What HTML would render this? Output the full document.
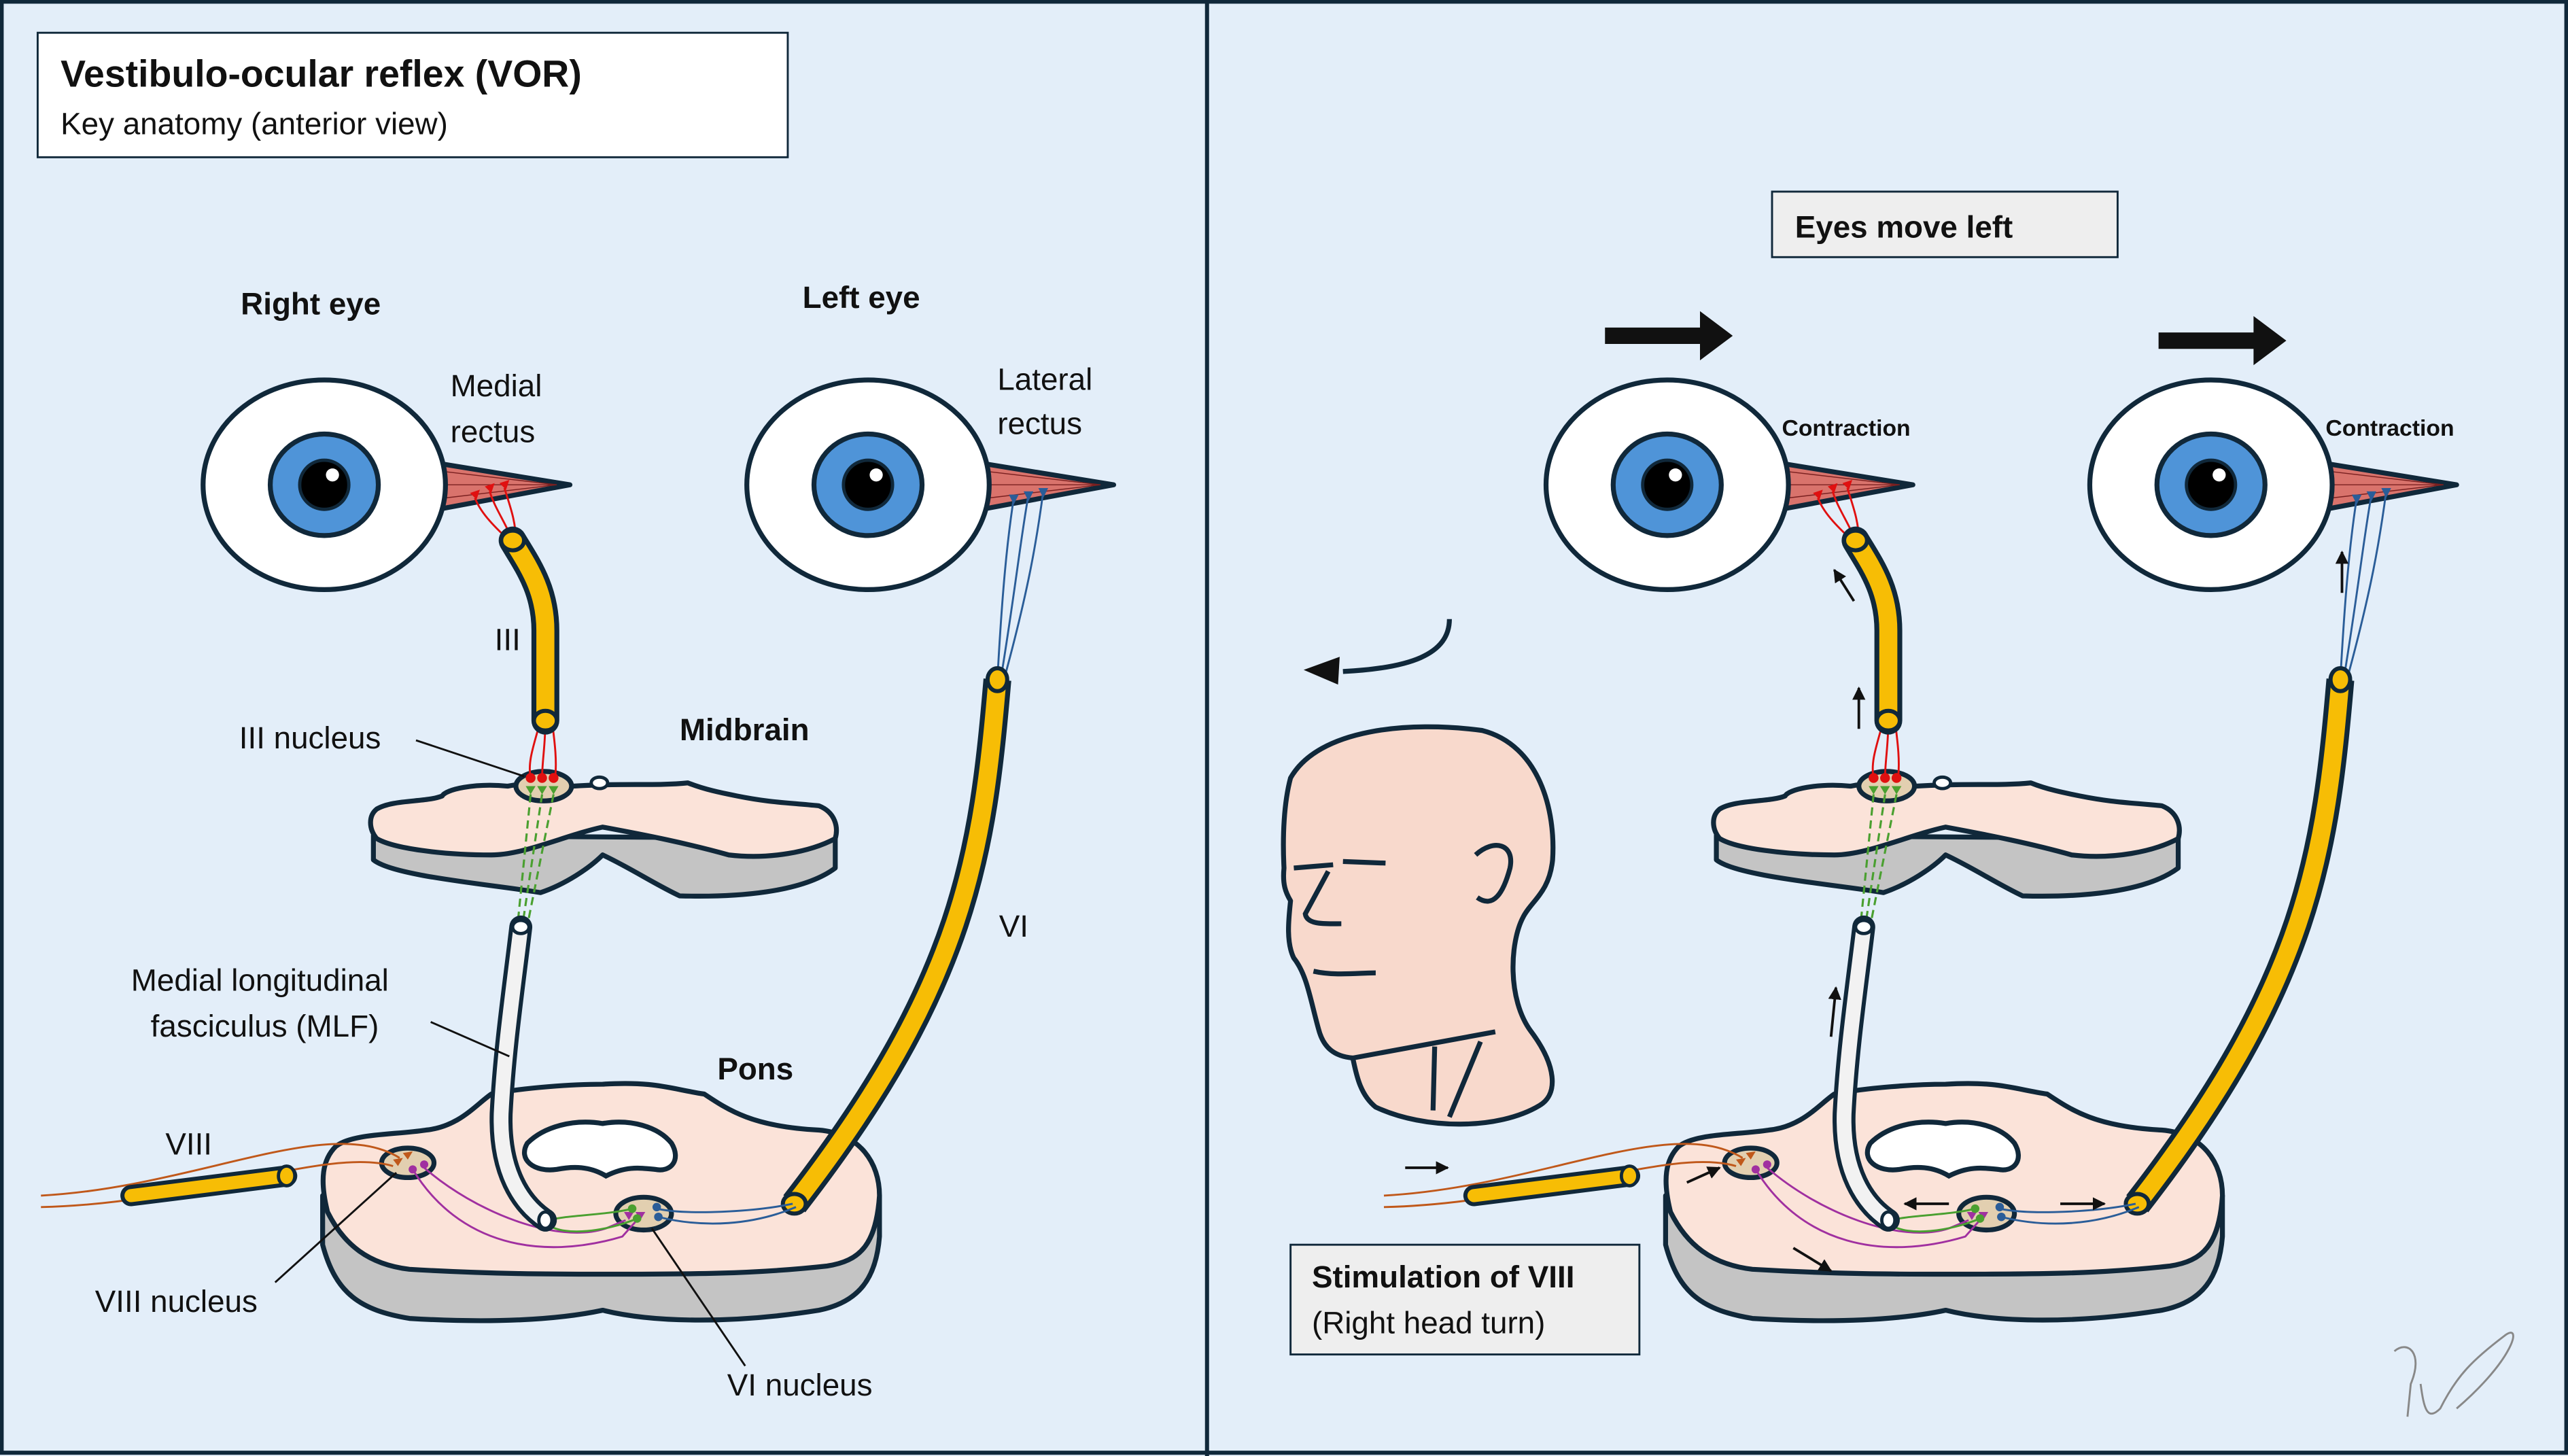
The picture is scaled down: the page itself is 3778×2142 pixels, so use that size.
<!DOCTYPE html>
<html><head><meta charset="utf-8"><style>
html,body{margin:0;padding:0;background:#e3eef9}
svg{display:block}
text{font-family:"Liberation Sans",sans-serif;fill:#111}
</style></head><body>
<svg width="3778" height="2142" viewBox="0 0 1568 889" xmlns="http://www.w3.org/2000/svg">
<defs>
<marker id="ah" viewBox="0 0 10 10" refX="9" refY="5" markerWidth="5" markerHeight="5" orient="auto"><path d="M0,0L10,5L0,10z" fill="#111"/></marker>
<g id="anat">
 <!-- midbrain -->
 <path d="M228,510 L228,525 C240,535 300,540 330,545 C345,540 360,530 368,522 C385,530 400,540 415,547 C450,548 490,545 510,530 L510,512 Z" fill="#c4c4c4" stroke="#10283a" stroke-width="3" stroke-linejoin="round"/>
 <path d="M230,494 C240,488 260,490 270,486 C272,482 290,478 310,480 C320,478 330,478 350,480 C380,478 400,480 420,478 C430,482 440,484 450,486 C470,490 480,490 500,492 C510,496 512,505 510,512 C495,520 470,525 445,522 C420,515 395,510 368,505 C345,510 320,522 300,522 C270,522 240,518 230,512 C225,506 225,498 230,494Z" fill="#fbe3d9" stroke="#10283a" stroke-width="3" stroke-linejoin="round"/>
 <ellipse cx="332" cy="480" rx="17" ry="9" fill="#e2cfb0" stroke="#10283a" stroke-width="3"/>
 <ellipse cx="366" cy="478" rx="5" ry="3.5" fill="#fff" stroke="#10283a" stroke-width="2"/>
 <g fill="#e01010"><circle cx="324" cy="475" r="3"/><circle cx="331" cy="475" r="3"/><circle cx="338" cy="475" r="3"/></g>
 <g fill="#4aa030"><path d="M321,480h6l-3,5z"/><path d="M328,480h6l-3,5z"/><path d="M335,480h6l-3,5z"/></g>
 <g stroke="#4aa030" stroke-width="1.3" stroke-dasharray="5,3" fill="none"><path d="M324,485 L316,565"/><path d="M331,485 L319,565"/><path d="M338,485 L322,565"/></g>
 <!-- pons -->
 <path d="M197,730 L197,760 C205,790 220,800 250,805 C300,808 340,806 368,800 C400,808 450,808 500,800 C525,795 535,780 537,755 L537,730 Z" fill="#c4c4c4" stroke="#10283a" stroke-width="3" stroke-linejoin="round"/>
 <path d="M205,700 C215,692 240,693 260,690 C280,688 290,675 300,668 C320,664 350,662 368,662 C400,660 410,665 430,668 C445,678 460,688 500,690 C525,692 537,710 537,730 C535,760 525,770 505,773 C460,778 420,778 368,778 C340,778 300,778 250,775 C225,772 210,760 200,740 C195,720 197,708 205,700Z" fill="#fbe3d9" stroke="#10283a" stroke-width="3" stroke-linejoin="round"/>
 <path d="M322,698 C332,688 350,683 368,686 C385,683 402,688 410,698 C416,708 410,716 400,714 C390,713 382,712 370,718 C360,712 350,712 340,714 C326,716 316,708 322,698Z" fill="#fff" stroke="#10283a" stroke-width="3"/>
 <ellipse cx="249" cy="710" rx="16" ry="9" fill="#e2cfb0" stroke="#10283a" stroke-width="3"/>
 <ellipse cx="393" cy="741" rx="17" ry="10" fill="#e2cfb0" stroke="#10283a" stroke-width="3"/>
 <!-- eyes -->
 <g id="eyeR">
  <path d="M262,282 L348,296 L262,312z" fill="#d9736c" stroke="#10283a" stroke-width="3" stroke-linejoin="round"/>
  <path d="M272,288L340,296M272,296L340,296M272,304L340,296" stroke="#7a2020" stroke-width="0.6"/>
  <ellipse cx="198" cy="296" rx="74" ry="64" fill="#fff" stroke="#10283a" stroke-width="3"/>
  <ellipse cx="198" cy="296" rx="33" ry="31" fill="#4f94d8" stroke="#10283a" stroke-width="3"/>
  <ellipse cx="198" cy="296" rx="15" ry="15" fill="#000" stroke="#10283a" stroke-width="2"/>
  <circle cx="203" cy="290" r="4" fill="#fff"/>
 </g>
 <use href="#eyeR" transform="translate(332,0)"/>
 <!-- red fibers -->
 <g stroke="#e01010" stroke-width="1.2" fill="none">
  <path d="M311,330 C300,320 293,312 290,304"/><path d="M313,330 C308,318 302,310 299,300"/><path d="M315,330 C315,318 311,308 308,298"/>
  <path d="M330,440 C326,455 322,465 324,475"/><path d="M333,440 C333,455 331,465 331,475"/><path d="M337,440 C339,455 340,465 339,475"/>
 </g>
 <g fill="#e01010"><path d="M287,301l6,-2l-2,6z"/><path d="M296,297l6,-2l-2,6z"/><path d="M305,295l6,-2l-2,6z"/></g>
 <!-- blue fibers -->
 <g stroke="#2a5d98" stroke-width="1.2" fill="none">
  <path d="M609,415 C612,360 615,330 619,304"/><path d="M611,415 C620,360 623,330 628,302"/><path d="M613,415 C628,360 633,330 637,300"/>
 </g>
 <g fill="#2a5d98"><path d="M616,302l6,0l-3,6z"/><path d="M625,300l6,0l-3,6z"/><path d="M634,298l6,0l-3,6z"/></g>
 <!-- nerve III -->
 <path d="M313,330 C322,345 333,360 333,385 L333,440" fill="none" stroke="#10283a" stroke-width="17" stroke-linecap="round"/>
 <path d="M313,330 C322,345 333,360 333,385 L333,440" fill="none" stroke="#f7bd05" stroke-width="11"/>
 <ellipse cx="313" cy="330" rx="7" ry="6" fill="#f7bd05" stroke="#10283a" stroke-width="2.5"/>
 <ellipse cx="333" cy="440" rx="7" ry="6" fill="#f7bd05" stroke="#10283a" stroke-width="2.5"/>
 <!-- nerve VI -->
 <path d="M609,415 C600,520 590,600 485,735" fill="none" stroke="#10283a" stroke-width="17"/>
 <path d="M609,415 C600,520 590,600 485,735" fill="none" stroke="#f7bd05" stroke-width="11"/>
 <ellipse cx="609" cy="415" rx="6" ry="7" fill="#f7bd05" stroke="#10283a" stroke-width="2.5"/>
 <ellipse cx="485" cy="735" rx="7" ry="6" fill="#f7bd05" stroke="#10283a" stroke-width="2.5"/>
 <!-- pons fibers -->
 <g stroke="#c0581a" stroke-width="1.2" fill="none"><path d="M25,730 C120,725 200,680 244,707"/><path d="M25,737 C120,735 200,700 240,712"/></g>
 <g stroke="#a030a0" stroke-width="1.2" fill="none"><path d="M252,714 C280,760 330,770 380,755 L388,746"/><path d="M259,713 C290,740 340,760 370,750 L382,745"/></g>
 <g fill="#a030a0"><circle cx="252" cy="714" r="2.5"/><circle cx="259" cy="711" r="2.5"/><path d="M381,740h6l-3,5z"/><path d="M388,740h6l-3,5z"/></g>
 <g fill="#c0581a"><path d="M240,708l6,-1l-3,5z"/><path d="M246,704l6,-1l-3,5z"/></g>
 <g stroke="#4aa030" stroke-width="1.2" fill="none"><path d="M335,745 C345,742 370,742 386,738"/><path d="M335,748 C345,755 370,752 389,744"/></g>
 <g fill="#4aa030"><circle cx="386" cy="738" r="2.6"/><circle cx="389" cy="744" r="2.6"/></g>
 <g stroke="#2a5d98" stroke-width="1.2" fill="none"><path d="M401,738 C420,742 460,740 484,735"/><path d="M402,743 C430,750 460,748 486,737"/></g>
 <g fill="#2a5d98"><circle cx="401" cy="737" r="2.6"/><circle cx="402" cy="743" r="2.6"/></g>
 <!-- MLF -->
 <path d="M318,566 C314,600 308,640 306,680 C305,715 318,735 333,745" fill="none" stroke="#10283a" stroke-width="14" stroke-linecap="round"/>
 <path d="M318,566 C314,600 308,640 306,680 C305,715 318,735 333,745" fill="none" stroke="#f2f2f2" stroke-width="9"/>
 <ellipse cx="318" cy="566" rx="5" ry="4" fill="#fff" stroke="#10283a" stroke-width="2"/>
 <ellipse cx="333" cy="745" rx="4" ry="5" fill="#fff" stroke="#10283a" stroke-width="2"/>
 <!-- VIII nerve -->
 <path d="M80,730 L175,718" stroke="#10283a" stroke-width="13" stroke-linecap="round"/>
 <path d="M80,730 L175,718" stroke="#f7bd05" stroke-width="8" stroke-linecap="round"/>
 <ellipse cx="175" cy="718" rx="5" ry="6" fill="#f7bd05" stroke="#10283a" stroke-width="2"/>
</g>
</defs>

<rect x="0" y="0" width="1568" height="889" fill="#e3eef9"/>
<use href="#anat"/>
<use href="#anat" transform="translate(820,0)"/>

<rect x="1" y="1" width="1566" height="886" fill="none" stroke="#10283a" stroke-width="2.5"/>
<line x1="737" y1="0" x2="737" y2="889" stroke="#10283a" stroke-width="2.5"/>

<rect x="23" y="20" width="458" height="76" fill="#fff" stroke="#10283a" stroke-width="1.2"/>
<text x="37" y="53" font-size="23" font-weight="bold">Vestibulo-ocular reflex (VOR)</text>
<text x="37" y="82" font-size="19">Key anatomy (anterior view)</text>
<text x="147" y="192" font-size="19" font-weight="bold">Right eye</text>
<text x="490" y="188" font-size="19" font-weight="bold">Left eye</text>
<text x="275" y="242" font-size="19">Medial</text>
<text x="275" y="270" font-size="19">rectus</text>
<text x="609" y="238" font-size="19">Lateral</text>
<text x="609" y="265" font-size="19">rectus</text>
<text x="302" y="397" font-size="19">III</text>
<text x="146" y="457" font-size="19">III nucleus</text>
<line x1="254" y1="452" x2="320" y2="474" stroke="#111" stroke-width="1.2"/>
<text x="415" y="452" font-size="19" font-weight="bold">Midbrain</text>
<text x="610" y="572" font-size="19">VI</text>
<text x="80" y="605" font-size="19">Medial longitudinal</text>
<text x="92" y="633" font-size="19">fasciculus (MLF)</text>
<line x1="263" y1="624" x2="311" y2="645" stroke="#111" stroke-width="1.2"/>
<text x="438" y="659" font-size="19" font-weight="bold">Pons</text>
<text x="101" y="705" font-size="19">VIII</text>
<text x="58" y="801" font-size="19">VIII nucleus</text>
<line x1="168" y1="783" x2="242" y2="716" stroke="#111" stroke-width="1.2"/>
<text x="444" y="852" font-size="19">VI nucleus</text>
<line x1="398" y1="750" x2="455" y2="834" stroke="#111" stroke-width="1.2"/>

<rect x="1082" y="117" width="211" height="40" fill="#eeeeee" stroke="#10283a" stroke-width="1.2"/>
<text x="1096" y="145" font-size="19" font-weight="bold">Eyes move left</text>
<rect x="788" y="760" width="213" height="67" fill="#eeeeee" stroke="#10283a" stroke-width="1.2"/>
<text x="801" y="786" font-size="19" font-weight="bold">Stimulation of VIII</text>
<text x="801" y="814" font-size="19">(Right head turn)</text>
<text x="1088" y="266" font-size="14" font-weight="bold">Contraction</text>
<text x="1420" y="266" font-size="14" font-weight="bold">Contraction</text>
<g fill="#111"><path d="M980,200h58v-10l20,15l-20,15v-10h-58z"/><path d="M1318,203h58v-10l20,15l-20,15v-10h-58z"/></g>
<path d="M885,378 C885,400 860,408 820,410" fill="none" stroke="#10283a" stroke-width="3"/>
<path d="M796,409 L818,401 L817,418z" fill="#111"/>
<path d="M788,475 C805,445 860,440 905,446 C940,455 950,495 948,525 C946,545 935,550 930,560 C922,575 920,610 935,630 C950,650 952,668 940,675 C915,690 870,690 840,676 C830,668 828,655 826,646 C815,645 808,640 805,628 C800,610 798,595 790,585 C785,575 787,560 788,550 C785,545 783,540 784,530 C783,510 784,490 788,475Z" fill="#f8d9cc" stroke="#10283a" stroke-width="3" stroke-linejoin="round"/>
<g stroke="#10283a" stroke-width="3" fill="none">
 <path d="M790,530 L814,528"/><path d="M820,526 L846,527"/>
 <path d="M811,532 L797,558 C798,565 810,564 819,564"/>
 <path d="M802,593 C815,596 830,594 840,594"/>
 <path d="M826,646 C860,640 890,634 913,630"/>
 <path d="M876,639 L875,678"/><path d="M904,636 L885,682"/>
 <path d="M901,522 C912,512 925,515 922,530 C918,545 912,555 902,548"/>
</g>
<g stroke="#111" stroke-width="1.6" marker-end="url(#ah)">
 <line x1="1132" y1="367" x2="1120" y2="348"/>
 <line x1="1135" y1="445" x2="1135" y2="420"/>
 <line x1="1430" y1="362" x2="1430" y2="337"/>
 <line x1="1118" y1="633" x2="1121" y2="603"/>
 <line x1="858" y1="713" x2="884" y2="713"/>
 <line x1="1030" y1="722" x2="1050" y2="713"/>
 <line x1="1095" y1="762" x2="1118" y2="776"/>
 <line x1="1190" y1="735" x2="1163" y2="735"/>
 <line x1="1258" y1="735" x2="1285" y2="735"/>
</g>
<path d="M1462,825 C1470,818 1480,826 1472,845 L1470,865 M1478,845 C1480,860 1482,868 1490,860 C1500,840 1510,830 1530,815 C1540,808 1535,830 1500,860" fill="none" stroke="#888" stroke-width="1.2"/>
</svg>
</body></html>
